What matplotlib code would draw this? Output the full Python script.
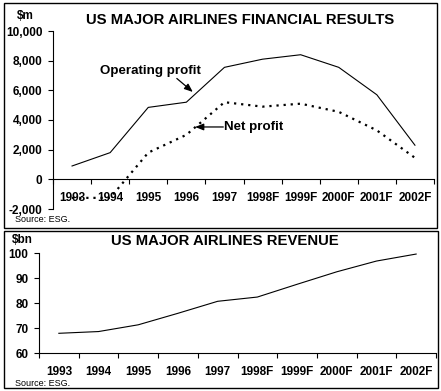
import numpy as np
import matplotlib
matplotlib.use('Agg')
import matplotlib.pyplot as plt
from matplotlib.patches import Rectangle

plt.rcParams['font.family'] = ['Liberation Sans', 'DejaVu Sans']

# Data
years = ['1993', '1994', '1995', '1996', '1997', '1998F', '1999F', '2000F', '2001F', '2002F']
operating_profit = [900, 1800, 4850, 5200, 7550, 8100, 8400, 7550, 5700, 2300]
net_profit = [-1250, -1250, 1800, 3000, 5200, 4900, 5100, 4550, 3300, 1450]
revenue = [68.0, 68.7, 71.4, 76.0, 80.8, 82.5, 87.6, 92.6, 96.9, 99.7]

W, H = 441, 391
fig = plt.figure(figsize=(W / 100, H / 100), dpi=100)
fig.patch.set_facecolor('white')


def fx(px):
    return px / W


def fy(py):
    return 1 - py / H


# Panel borders
for (x0, y0, x1, y1) in [(4, 3, 437, 228), (4, 231, 438, 388)]:
    fig.patches.append(Rectangle((fx(x0), fy(y1)), fx(x1) - fx(x0), fy(y0) - fy(y1),
                                 transform=fig.transFigure, fill=False,
                                 edgecolor='black', linewidth=1.0))

x = np.arange(len(years))
tick_font = dict(fontsize=8.5, fontweight='bold')


def style_axes(ax, ylim, yticks, fmt):
    ax.set_xlim(-0.5, len(years) - 0.5)
    ax.set_ylim(*ylim)
    ax.set_yticks(yticks)
    ax.set_yticklabels([fmt(v) for v in yticks], **tick_font)
    ax.set_xticks(x)
    ax.set_xticklabels(years, **tick_font)
    ax.set_xticks(np.arange(len(years) + 1) - 0.5, minor=True)
    ax.tick_params(axis='x', which='major', length=0, pad=9)
    ax.tick_params(axis='x', which='minor', length=3.5, direction='out', width=0.8)
    ax.tick_params(axis='y', length=3.5, direction='out', width=0.8, pad=4)
    for s in ['top', 'right']:
        ax.spines[s].set_visible(False)
    for s in ['left', 'bottom']:
        ax.spines[s].set_linewidth(0.8)
    ax.patch.set_alpha(0)


arrow = dict(arrowstyle='-|>,head_length=0.5,head_width=0.2',
             color='black', lw=0.9, shrinkA=0, shrinkB=0)

# --- Top panel: financial results ---
ax1 = fig.add_axes([fx(53), fy(209), fx(434) - fx(53), fy(31) - fy(209)])
ax1.spines['bottom'].set_position(('data', 0))
ax1.plot(x, operating_profit, color='black', linewidth=0.8)
ax1.plot(x, net_profit, color='black', linewidth=1.6, linestyle=(0, (1, 2.2)))
style_axes(ax1, (-2000, 10000), [-2000, 0, 2000, 4000, 6000, 8000, 10000],
           lambda v: f'{v:,}')

ax1.text(2.05, 7300, 'Operating profit', ha='center', va='center',
         fontsize=9.6, fontweight='bold')
ax1.annotate('', xy=(3.17, 5890), xytext=(2.75, 6800), arrowprops=arrow)
ax1.text(4.0, 3530, 'Net profit', ha='left', va='center',
         fontsize=9.6, fontweight='bold')
ax1.annotate('', xy=(3.23, 3530), xytext=(3.97, 3530), arrowprops=arrow)

fig.text(fx(240), fy(20), 'US MAJOR AIRLINES FINANCIAL RESULTS', ha='center', va='center',
         fontsize=10.7, fontweight='bold')
fig.text(fx(25), fy(16), '$m', ha='center', va='center', fontsize=8.5, fontweight='bold')
fig.text(fx(15), fy(220), 'Source: ESG.', ha='left', va='center', fontsize=6.5)

# --- Bottom panel: revenue ---
ax2 = fig.add_axes([fx(39), fy(353.3), fx(436) - fx(39), fy(253.3) - fy(353.3)])
ax2.plot(x, revenue, color='black', linewidth=0.8)
style_axes(ax2, (60, 100), [60, 70, 80, 90, 100], lambda v: f'{v}')

fig.text(fx(225), fy(241), 'US MAJOR AIRLINES REVENUE', ha='center', va='center',
         fontsize=10.7, fontweight='bold')
fig.text(fx(22), fy(240), '$bn', ha='center', va='center', fontsize=8.5, fontweight='bold')
fig.text(fx(15), fy(384), 'Source: ESG.', ha='left', va='center', fontsize=6.5)

fig.savefig('out.png', dpi=100)
